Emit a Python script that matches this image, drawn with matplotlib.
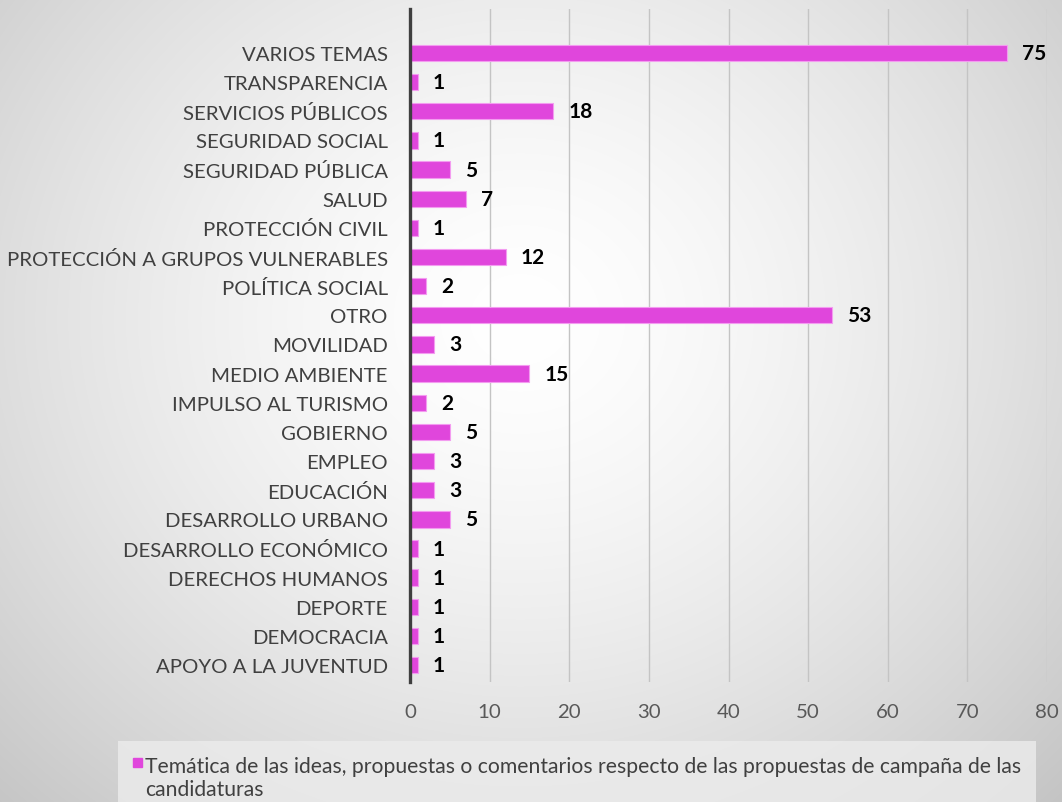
import matplotlib
matplotlib.use("Agg")
import matplotlib.pyplot as plt
from matplotlib.legend_handler import HandlerPatch
from matplotlib.patches import Rectangle
import numpy as np

# categories listed bottom -> top, as drawn
temas = ['APOYO A LA JUVENTUD', 'DEMOCRACIA', 'DEPORTE', 'DERECHOS HUMANOS',
         'DESARROLLO ECONÓMICO', 'DESARROLLO URBANO', 'EDUCACIÓN', 'EMPLEO',
         'GOBIERNO', 'IMPULSO AL TURISMO', 'MEDIO AMBIENTE', 'MOVILIDAD', 'OTRO',
         'POLÍTICA SOCIAL', 'PROTECCIÓN A GRUPOS VULNERABLES', 'PROTECCIÓN CIVIL',
         'SALUD', 'SEGURIDAD PÚBLICA', 'SEGURIDAD SOCIAL', 'SERVICIOS PÚBLICOS',
         'TRANSPARENCIA', 'VARIOS TEMAS']
valores = [1, 1, 1, 1, 1, 5, 3, 3, 5, 2, 15, 3, 53, 2, 12, 1, 7, 5, 1, 18, 1, 75]
xticks = [0, 10, 20, 30, 40, 50, 60, 70, 80]
serie = ('Temática de las ideas, propuestas o comentarios respecto de las propuestas de campaña de las\n'
         'candidaturas')

plt.rcParams['font.family'] = ['Lato', 'DejaVu Sans']

W, H = 1062, 803
fig = plt.figure(figsize=(W / 100, H / 100), dpi=100)

# radial gradient background
bg = fig.add_axes([0, 0, 1, 1], zorder=-10)
yy, xx = np.mgrid[0:H, 0:W]
r = np.sqrt(((xx - 520) / 620.0) ** 2 + ((yy - 320) / 560.0) ** 2)
shade = 1.0 - 0.17 * np.clip(r, 0, 1.3) ** 1.5
bg.imshow(np.dstack([shade] * 3), aspect='auto', extent=[0, 1, 0, 1], vmin=0, vmax=1)
bg.axis('off')

ax = fig.add_axes([410 / W, 1 - 683 / H, (1047 - 410) / W, (683 - 10) / H])
ax.patch.set_alpha(0)
y = np.arange(len(temas))
ax.barh(y, valores, height=0.56, color='#e046dc', edgecolor='#f39cf0', linewidth=0.8, zorder=3)
for yi, v in zip(y, valores):
    ax.annotate(str(v), (v, yi), xytext=(15, 0), textcoords='offset pixels',
                va='center', ha='left', fontsize=15, fontweight='bold', color='black')

ax.set_xlim(0, 80)
ax.set_ylim(-0.58, len(temas) + 0.51)
ax.set_xticks(xticks)
ax.set_yticks(y)
ax.set_yticklabels(temas)
ax.tick_params(axis='y', length=0, pad=16, labelsize=14.7, labelcolor='#404040')
ax.tick_params(axis='x', length=0, pad=15, labelsize=14.7, labelcolor='#595959')
ax.grid(axis='x', color='#c4c4c4', linewidth=1, zorder=0)
for s in ['top', 'right', 'bottom']:
    ax.spines[s].set_visible(False)
ax.spines['left'].set_color('#3f3f3f')
ax.spines['left'].set_linewidth(2.4)
ax.spines['left'].set_zorder(4)


# small square level with the first line of the two-line label
def top_square(legend, orig_handle, xdescent, ydescent, width, height, fontsize):
    s = 0.42 * fontsize
    return Rectangle((-xdescent, -ydescent + 1.5 * fontsize - s / 2), s, s)


h = Rectangle((0, 0), 1, 1, color='#e046dc')
leg = fig.legend([h], [serie], loc='upper left', bbox_to_anchor=(118 / W, 1 - 742 / H),
                 frameon=True, fontsize=15.2, handlelength=0.45, handleheight=1.8,
                 handletextpad=0.1, borderpad=0.72, borderaxespad=0, fancybox=False,
                 labelcolor='#404040',
                 handler_map={Rectangle: HandlerPatch(patch_func=top_square)})
leg.get_frame().set_facecolor('#ececec')
leg.get_frame().set_edgecolor('none')
leg.get_frame().set_alpha(0.8)

fig.savefig('out.png', dpi=100)
